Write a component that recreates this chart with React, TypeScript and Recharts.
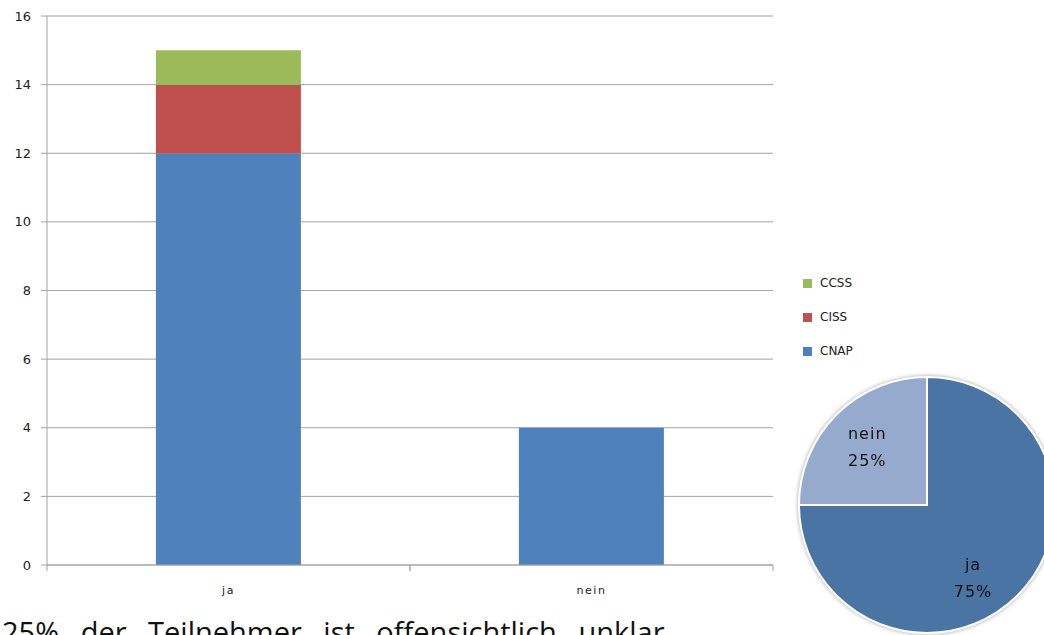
import { BarChart, Bar, XAxis, YAxis, CartesianGrid, PieChart, Pie, Cell } from 'recharts'

// bar chart: answers split by course
const categories = ['ja', 'nein']
const cnapValues = [12, 4]
const cissValues = [2, 0]
const ccssValues = [1, 0]
const yTicks = [0, 2, 4, 6, 8, 10, 12, 14, 16]

// pie chart: share of answers
const pieNames = ['nein', 'ja']
const pieShares = [25, 75]

const seriesNames = ['CNAP', 'CISS', 'CCSS']
const seriesColors = ['#4F81BD', '#C0504D', '#9BBB59']
const pieColors = ['#95AACC', '#4A74A4']

const axisColor = '#a3a3a3'
const font = '"DejaVu Sans", Verdana, sans-serif'

const barData = categories.map((c, i) => ({
  name: c,
  CNAP: cnapValues[i],
  CISS: cissValues[i],
  CCSS: ccssValues[i]
}))

const pieData = pieNames.map((n, i) => ({ name: n, value: pieShares[i] }))

function CategoryTick(props: any) {
  const { x, y, payload } = props
  const half = payload.offset ?? 181
  return (
    <g>
      <line x1={x - half} y1={y - 8} x2={x - half} y2={y - 2} stroke={axisColor} />
      <line x1={x + half} y1={y - 8} x2={x + half} y2={y - 2} stroke={axisColor} />
      <text x={x} y={y + 21} textAnchor="middle" fontSize={11} letterSpacing={1.5} fill="#222" fontFamily={font}>
        {payload.value}
      </text>
    </g>
  )
}

function PieLabel(props: any) {
  const { cx, cy, midAngle, outerRadius, name, percent } = props
  // the big slice gets its label a bit further round, like the original
  const angle = percent > 0.5 ? midAngle - 12 : midAngle
  const r = outerRadius * 0.66
  const rad = (Math.PI / 180) * angle
  const x = cx + r * Math.cos(rad)
  const y = cy - r * Math.sin(rad)
  return (
    <text x={x} y={y} textAnchor="middle" fontSize={16} letterSpacing={1} fill="#111" fontFamily={font}>
      <tspan x={x} dy={-6}>{name}</tspan>
      <tspan x={x} dy={27}>{`${Math.round(percent * 100)}%`}</tspan>
    </text>
  )
}

export default function App() {
  return (
    <div style={{ position: 'absolute', left: 0, top: 0, width: 1044, height: 635, overflow: 'hidden', background: '#fff' }}>
      <BarChart
        width={780}
        height={600}
        data={barData}
        margin={{ top: 16, right: 7, left: 7, bottom: 5 }}
        barCategoryGap="30%"
      >
        <CartesianGrid vertical={false} stroke={axisColor} />
        <XAxis
          dataKey="name"
          height={30}
          stroke={axisColor}
          tickLine={false}
          tick={<CategoryTick />}
          interval={0}
        />
        <YAxis
          width={40}
          domain={[0, 16]}
          ticks={yTicks}
          stroke={axisColor}
          tickSize={6}
          tickMargin={10}
          tick={{ fontSize: 13, fill: '#222', fontFamily: font }}
        />
        {seriesNames.map((s, i) => (
          <Bar key={s} dataKey={s} stackId="a" fill={seriesColors[i]} isAnimationActive={false} />
        ))}
      </BarChart>

      {/* legend, top entry is the last stacked series */}
      <div style={{ position: 'absolute', left: 803, top: 276, fontFamily: font, fontSize: 12, color: '#222' }}>
        {[...seriesNames].reverse().map((s) => (
          <div key={s} style={{ display: 'flex', alignItems: 'center', height: 34 }}>
            <span style={{ width: 9, height: 9, background: seriesColors[seriesNames.indexOf(s)], marginRight: 8, marginTop: -20 }} />
            <span style={{ marginTop: -20 }}>{s}</span>
          </div>
        ))}
      </div>

      <div style={{ position: 'absolute', left: 777, top: 355, filter: 'drop-shadow(0 0 2px rgba(0,0,0,0.35))' }}>
        <PieChart width={300} height={300} margin={{ top: 0, right: 0, bottom: 0, left: 0 }}>
          <Pie
            data={pieData}
            dataKey="value"
            nameKey="name"
            cx={150}
            cy={150}
            outerRadius={128}
            startAngle={90}
            endAngle={450}
            stroke="#fff"
            strokeWidth={2}
            label={PieLabel}
            labelLine={false}
            isAnimationActive={false}
          >
            {pieData.map((d, i) => (
              <Cell key={d.name} fill={pieColors[i]} />
            ))}
          </Pie>
        </PieChart>
      </div>

      <div
        style={{
          position: 'absolute',
          left: 2,
          top: 612,
          fontFamily: '"Open Sans", sans-serif',
          fontSize: 29,
          whiteSpace: 'nowrap',
          wordSpacing: 14,
          color: '#111'
        }}
      >
        25% der Teilnehmer ist offensichtlich unklar
      </div>
    </div>
  )
}
